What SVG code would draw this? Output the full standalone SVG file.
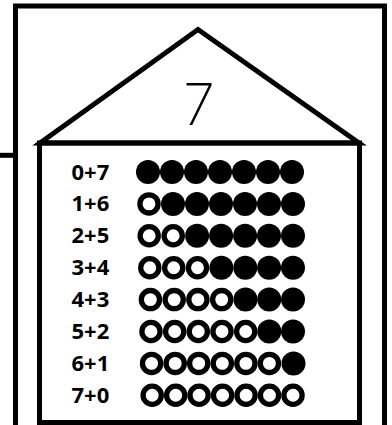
<svg xmlns="http://www.w3.org/2000/svg" width="392" height="425" viewBox="0 0 392 425">
<style>
.ln{fill:none;stroke:#000;stroke-width:5}
.lbl{font-family:"Open Sans","Liberation Sans",sans-serif;font-weight:700;font-size:22px;fill:#000}
.f{fill:#000}
.o{fill:#fff;stroke:#000;stroke-width:5.3}
.num{font-family:Inter,"DejaVu Sans",sans-serif;font-weight:200;font-size:57px;fill:#000}
</style>
<rect width="392" height="425" fill="#fff"/>
<g id="frame">
<path class="ln" d="M15.5,430 V6 H384.5 V430" stroke-width="4.6"/>
<path class="ln" d="M0,155.3 H15" stroke-width="4"/>
</g>
<g id="house">
<polygon class="ln" points="40,143 198,29.5 359,143" stroke-linejoin="miter" stroke-miterlimit="10"/>
<rect class="ln" x="39.5" y="143" width="320" height="279.5"/>
<text class="num" x="199" y="125" text-anchor="middle">7</text>
</g>
<g id="rows">
<g id="row0"><text class="lbl" x="71.5" y="179.5">0+7</text>
<circle class="f" cx="148" cy="172" r="12"/><circle class="f" cx="172" cy="172" r="12"/><circle class="f" cx="196" cy="172" r="12"/><circle class="f" cx="220" cy="172" r="12"/><circle class="f" cx="244" cy="172" r="12"/><circle class="f" cx="268" cy="172" r="12"/><circle class="f" cx="292" cy="172" r="12"/></g>
<g id="row1"><text class="lbl" x="71.5" y="211.4">1+6</text>
<circle class="o" cx="149" cy="203.9" r="9.1"/><circle class="f" cx="173" cy="203.9" r="12"/><circle class="f" cx="197" cy="203.9" r="12"/><circle class="f" cx="221" cy="203.9" r="12"/><circle class="f" cx="245" cy="203.9" r="12"/><circle class="f" cx="269" cy="203.9" r="12"/><circle class="f" cx="293" cy="203.9" r="12"/></g>
<g id="row2"><text class="lbl" x="71.5" y="243.3">2+5</text>
<circle class="o" cx="149.2" cy="235.8" r="9.1"/><circle class="o" cx="173.2" cy="235.8" r="9.1"/><circle class="f" cx="197.1" cy="235.8" r="12"/><circle class="f" cx="221.1" cy="235.8" r="12"/><circle class="f" cx="245.1" cy="235.8" r="12"/><circle class="f" cx="269" cy="235.8" r="12"/><circle class="f" cx="293" cy="235.8" r="12"/></g>
<g id="row3"><text class="lbl" x="71.5" y="275.2">3+4</text>
<circle class="o" cx="149.8" cy="267.7" r="9.1"/><circle class="o" cx="173.7" cy="267.7" r="9.1"/><circle class="o" cx="197.5" cy="267.7" r="9.1"/><circle class="f" cx="221.4" cy="267.7" r="12"/><circle class="f" cx="245.3" cy="267.7" r="12"/><circle class="f" cx="269.1" cy="267.7" r="12"/><circle class="f" cx="293" cy="267.7" r="12"/></g>
<g id="row4"><text class="lbl" x="71.5" y="307.1">4+3</text>
<circle class="o" cx="150.4" cy="299.6" r="9.1"/><circle class="o" cx="174.2" cy="299.6" r="9.1"/><circle class="o" cx="197.9" cy="299.6" r="9.1"/><circle class="o" cx="221.7" cy="299.6" r="9.1"/><circle class="f" cx="245.5" cy="299.6" r="12"/><circle class="f" cx="269.2" cy="299.6" r="12"/><circle class="f" cx="293" cy="299.6" r="12"/></g>
<g id="row5"><text class="lbl" x="71.5" y="339">5+2</text>
<circle class="o" cx="151" cy="331.5" r="9.1"/><circle class="o" cx="174.7" cy="331.5" r="9.1"/><circle class="o" cx="198.3" cy="331.5" r="9.1"/><circle class="o" cx="222" cy="331.5" r="9.1"/><circle class="o" cx="245.7" cy="331.5" r="9.1"/><circle class="f" cx="269.3" cy="331.5" r="12"/><circle class="f" cx="293" cy="331.5" r="12"/></g>
<g id="row6"><text class="lbl" x="71.5" y="370.9">6+1</text>
<circle class="o" cx="151.6" cy="363.4" r="9.1"/><circle class="o" cx="175.2" cy="363.4" r="9.1"/><circle class="o" cx="198.7" cy="363.4" r="9.1"/><circle class="o" cx="222.3" cy="363.4" r="9.1"/><circle class="o" cx="245.9" cy="363.4" r="9.1"/><circle class="o" cx="269.4" cy="363.4" r="9.1"/><circle class="f" cx="293.5" cy="363.4" r="12"/></g>
<g id="row7"><text class="lbl" x="71.5" y="402.8">7+0</text>
<circle class="o" cx="152.2" cy="395.3" r="9.1"/><circle class="o" cx="175.7" cy="395.3" r="9.1"/><circle class="o" cx="199.1" cy="395.3" r="9.1"/><circle class="o" cx="222.6" cy="395.3" r="9.1"/><circle class="o" cx="246.1" cy="395.3" r="9.1"/><circle class="o" cx="269.5" cy="395.3" r="9.1"/><circle class="o" cx="293" cy="395.3" r="9.1"/></g>
</g>
</svg>
